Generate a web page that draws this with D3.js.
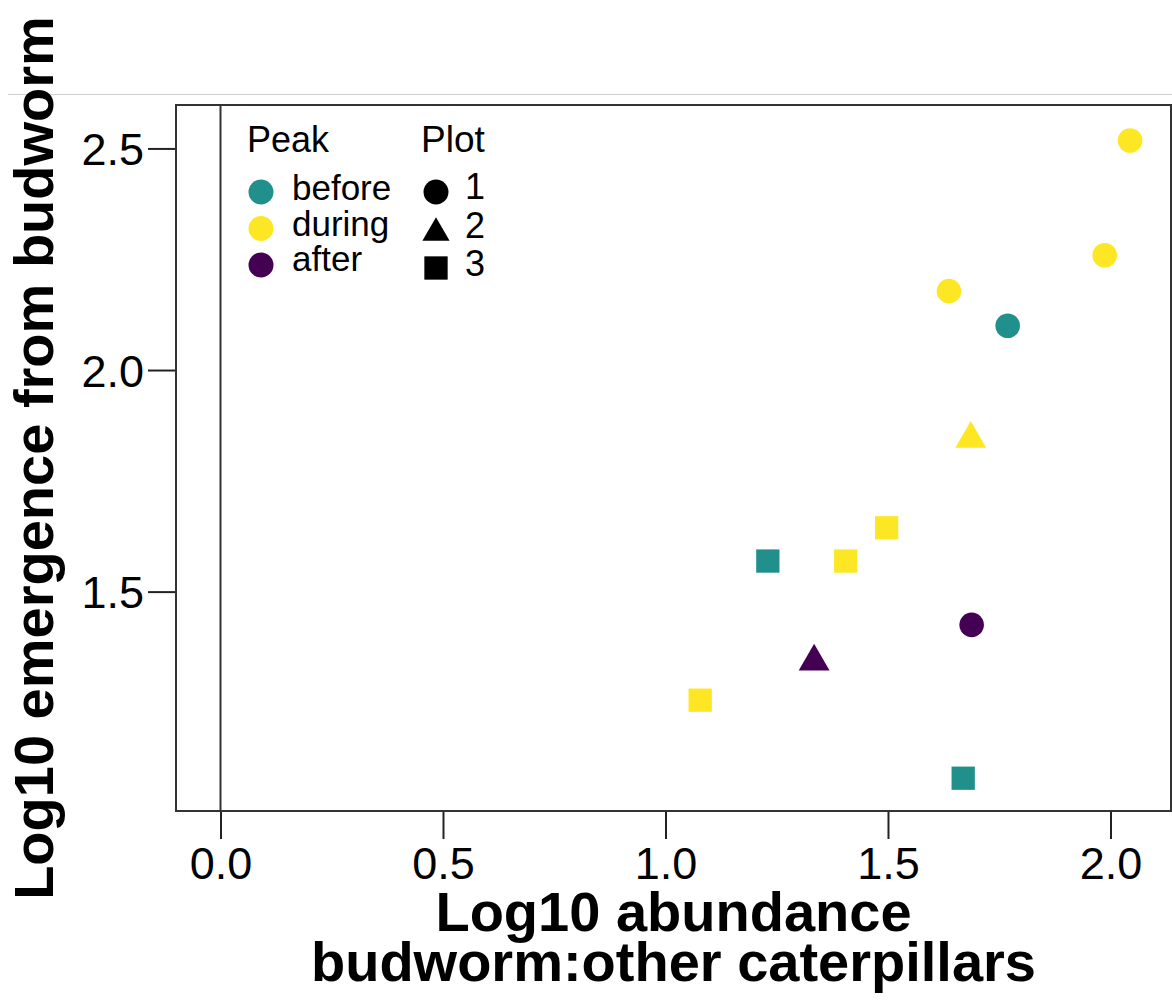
<!DOCTYPE html>
<html>
<head>
<meta charset="utf-8">
<script src="https://cdn.jsdelivr.net/npm/d3@7"></script>
<style>
  body { margin: 0; background: white; }
  text { font-family: "Liberation Sans", Arial, Helvetica, sans-serif; }
</style>
</head>
<body>
<div id="chart"></div>
<script>
// data
var abundance = [2.044, 1.987, 1.637, 1.769, 1.688, 1.686, 1.334, 1.497, 1.230, 1.405, 1.078, 1.669];
var emergence = [2.518, 2.259, 2.178, 2.100, 1.425, 1.845, 1.342, 1.644, 1.569, 1.569, 1.255, 1.079];
var peak      = ["during", "during", "during", "before", "after", "during", "after", "during", "before", "during", "during", "before"];
var plotNo    = ["1", "1", "1", "1", "1", "2", "2", "3", "3", "3", "3", "3"];

var peakLevels = ["before", "during", "after"];
var plotLevels = ["1", "2", "3"];
var xTicks = [0, 0.5, 1, 1.5, 2];
var yTicks = [1.5, 2, 2.5];

var width = 1172, height = 1007;
var box = {left: 176, right: 1171, top: 105, bottom: 811};

var svg = d3.select("#chart")
  .append("svg")
	.attr("width", width)
	.attr("height", height);

// thin grey rule across the top
svg.append("line")
	.attr("x1", 8).attr("x2", width)
	.attr("y1", 94.5).attr("y2", 94.5)
	.attr("stroke", "#cfcfcf")
	.attr("stroke-width", 1);

var x = d3.scaleLinear()
	.domain([-0.1, 2.136])
	.range([box.left, box.right]);

var y = d3.scaleLinear()
	.domain([1.005, 2.598])
	.range([box.bottom, box.top]);

var colour = d3.scaleOrdinal()
	.domain(peakLevels)
	.range(["#21908C", "#FDE725", "#440154"]);

var shape = d3.scaleOrdinal()
	.domain(plotLevels)
	.range([d3.symbolCircle, d3.symbolTriangle, d3.symbolSquare]);

var size = d3.scaleOrdinal()
	.domain(plotLevels)
	.range([475, 412, 543]);

// X axis
var xAxis = svg.append("g")
	.attr("transform", "translate(0," + box.bottom + ")")
	.call(d3.axisBottom(x).tickValues(xTicks).tickSize(28).tickPadding(8)
		.tickFormat(d3.format(".1f")));
xAxis.select(".domain").remove();
xAxis.selectAll("line").attr("stroke", "#222").attr("stroke-width", 2);
xAxis.selectAll("text")
	.style("font-size", "45px")
	.attr("fill", "#000")
	.attr("font-family", "Liberation Sans, Arial, sans-serif");

// Y axis
var yAxis = svg.append("g")
	.attr("transform", "translate(" + box.left + ",0)")
	.call(d3.axisLeft(y).tickValues(yTicks).tickSize(28).tickPadding(4)
		.tickFormat(d3.format(".1f")));
yAxis.select(".domain").remove();
yAxis.selectAll("line").attr("stroke", "#222").attr("stroke-width", 2);
yAxis.selectAll("text")
	.style("font-size", "45px")
	.attr("fill", "#000")
	.attr("dy", "0.36em")
	.attr("font-family", "Liberation Sans, Arial, sans-serif");

// plot box
svg.append("rect")
	.attr("x", box.left)
	.attr("y", box.top)
	.attr("width", box.right - box.left)
	.attr("height", box.bottom - box.top)
	.attr("fill", "none")
	.attr("stroke", "#333")
	.attr("stroke-width", 2);

// vertical line at zero
svg.append("line")
	.attr("x1", x(0)).attr("x2", x(0))
	.attr("y1", box.top).attr("y2", box.bottom)
	.attr("stroke", "#333")
	.attr("stroke-width", 2);

// points
svg.append("g")
  .selectAll("path")
  .data(abundance)
  .enter()
  .append("path")
	.attr("transform", function(d, i) { return "translate(" + x(d) + "," + y(emergence[i]) + ")"; })
	.attr("d", function(d, i) { return d3.symbol().type(shape(plotNo[i])).size(size(plotNo[i]))(); })
	.attr("fill", function(d, i) { return colour(peak[i]); });

// legend: Peak
var leg = svg.append("g");
leg.append("text")
	.attr("x", 247).attr("y", 152)
	.style("font-size", "36px")
	.text("Peak");
leg.selectAll(".peakDot")
  .data(peakLevels)
  .enter()
  .append("circle")
	.attr("cx", 261)
	.attr("cy", function(d, i) { return 192 + i * 36.5; })
	.attr("r", 12.5)
	.attr("fill", function(d) { return colour(d); });
leg.selectAll(".peakLab")
  .data(peakLevels)
  .enter()
  .append("text")
	.attr("x", 292)
	.attr("y", function(d, i) { return 200 + i * 35.5; })
	.style("font-size", "35px")
	.text(function(d) { return d; });

// legend: Plot
leg.append("text")
	.attr("x", 421).attr("y", 152)
	.style("font-size", "37px")
	.text("Plot");
var legSize = [490, 320, 543];
var legY = [192, 233, 268];
leg.selectAll(".plotSym")
  .data(plotLevels)
  .enter()
  .append("path")
	.attr("transform", function(d, i) { return "translate(436," + legY[i] + ")"; })
	.attr("d", function(d, i) { return d3.symbol().type(shape(d)).size(legSize[i])(); })
	.attr("fill", "#000");
leg.selectAll(".plotLab")
  .data(plotLevels)
  .enter()
  .append("text")
	.attr("x", 465)
	.attr("y", function(d, i) { return [199, 238, 276][i]; })
	.style("font-size", "36px")
	.text(function(d) { return d; });

// axis titles
var midX = (box.left + box.right) / 2;
svg.append("text")
	.attr("x", midX).attr("y", 931)
	.attr("text-anchor", "middle")
	.style("font-size", "56px")
	.style("font-weight", "bold")
	.text("Log10 abundance");
svg.append("text")
	.attr("x", midX).attr("y", 981)
	.attr("text-anchor", "middle")
	.style("font-size", "56px")
	.style("font-weight", "bold")
	.text("budworm:other caterpillars");

svg.append("text")
	.attr("transform", "translate(53," + ((box.top + box.bottom) / 2) + ") rotate(-90)")
	.attr("text-anchor", "middle")
	.style("font-size", "56px")
	.style("font-weight", "bold")
	.text("Log10 emergence from budworm");
</script>
</body>
</html>
